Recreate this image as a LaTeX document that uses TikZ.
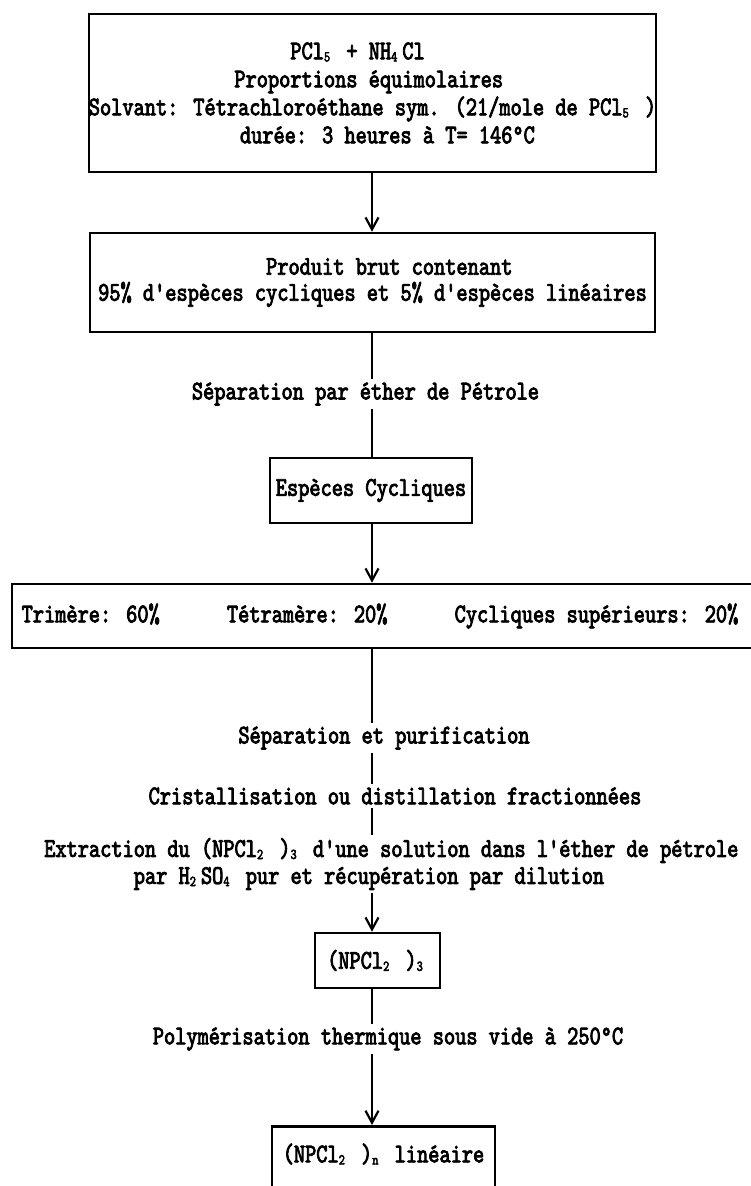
\documentclass[tikz,border=0pt]{standalone}
\usepackage{fontspec}
\usetikzlibrary{arrows.meta}
\newfontfamily\tw{lmmono10-regular.otf}[FakeStretch=0.79,FakeBold=3,Ligatures=TeXOff]
\newcommand\fs{\fontsize{27}{28}\selectfont}
\newcommand\ind[1]{\hspace*{#1\fontcharwd\font`0}}
\newcommand\sub[1]{\makebox[\fontcharwd\font`0][l]{\raisebox{-0.08em}{\fontsize{15}{15}\selectfont #1}}}
\begin{document}
\begin{tikzpicture}[x=1pt,y=-1pt,
  box/.style={draw, line width=2.6pt, inner sep=0pt, font=\tw\fs},
  lbl/.style={inner xsep=0pt, inner ysep=3pt, font=\tw\fs},
  conn/.style={line width=2.2pt},
  arr/.style={conn, -{Straight Barb[length=12pt,width=13pt]}}]
\path[use as bounding box, fill=white] (0,0) rectangle (750,1186);
\coordinate (ax) at (372,0);

\node[box, minimum width=565pt, minimum height=158pt, align=left] (b1) at (372.5,93)
 {\ind{18}PCl\sub5 + NH\sub4Cl\\\ind{13}Proportions équimolaires\\Solvant: Tétrachloroéthane sym. (21/mole de PCl\sub5 )\\\ind{13.5}durée: 3 heures à T= 146°C};
\node[box, minimum width=565pt, minimum height=99pt, align=left, font=\tw\fontsize{27}{26}\selectfont] (b2) at (372.5,282.5)
 {\ind{15}Produit brut contenant\\95\% d'espèces cycliques et 5\% d'espèces linéaires};
\node[lbl] (sep1) at (365.5,394) {Séparation par éther de Pétrole};
\node[box, minimum width=202pt, minimum height=65pt] (b3) at (371,490.5) {Espèces Cycliques};
\node[box, minimum width=748pt, minimum height=64pt] (b4) at (386,616)
 {Trimère: 60\%\ind{6}Tétramère: 20\%\ind{6}Cycliques supérieurs: 20\%\hspace*{12pt}};
\node[lbl] (sep2) at (384,738) {Séparation et purification};
\node[lbl] (cris) at (395,796) {Cristallisation ou distillation fractionnées};
\node[lbl, anchor=west, align=left, font=\tw\fontsize{27}{27}\selectfont] (ext) at (44,864)
 {Extraction du (NPCl\sub2 )\sub3 d'une solution dans l'éther de pétrole\\\ind{8}par H\sub2SO\sub4 pur et récupération par dilution};
\node[box, minimum width=125pt, minimum height=55pt] (np) at (377.5,960.5) {(NPCl\sub2 )\sub3};
\node[lbl] (poly) at (388,1039) {Polymérisation thermique sous vide à 250°C};
\node[box, anchor=north, minimum width=223pt, text height=36pt, text depth=60pt] (fin) at (383.5,1125) {(NPCl\sub2 )\sub n linéaire};

\draw[arr] (b1.south -| ax) -- (b2.north -| ax);
\draw[conn] (b2.south -| ax) -- (sep1.north -| ax);
\draw[conn] (sep1.south -| ax) -- (b3.north -| ax);
\draw[arr] (b3.south -| ax) -- (b4.north -| ax);
\draw[conn] (b4.south -| ax) -- (sep2.north -| ax);
\draw[conn] (sep2.south -| ax) -- (cris.north -| ax);
\draw[conn] (cris.south -| ax) -- (ext.north -| ax);
\draw[arr] (ext.south -| ax) -- (np.north -| ax);
\draw[conn] (np.south -| ax) -- (poly.north -| ax);
\draw[arr] (poly.south -| ax) -- (fin.north -| ax);
\end{tikzpicture}
\end{document}
